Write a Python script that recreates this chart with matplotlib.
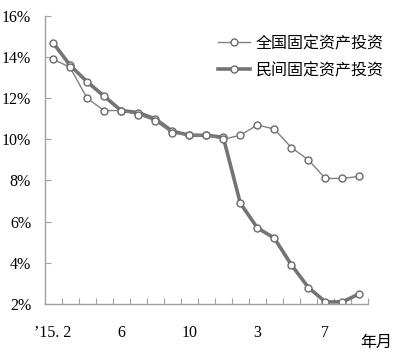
import matplotlib
matplotlib.use("Agg")
import matplotlib.pyplot as plt

plt.rcParams['font.family'] = ['Liberation Serif', 'Noto Sans CJK SC', 'DejaVu Sans']

months = ["15.2", "15.3", "15.4", "15.5", "15.6", "15.7", "15.8", "15.9", "15.10",
          "15.11", "15.12", "16.2", "16.3", "16.4", "16.5", "16.6", "16.7", "16.8", "16.9"]
national = [13.9, 13.5, 12.0, 11.4, 11.4, 11.2, 10.9, 10.3, 10.2, 10.2, 10.0,
            10.2, 10.7, 10.5, 9.6, 9.0, 8.1, 8.1, 8.2]
private = [14.7, 13.6, 12.8, 12.1, 11.4, 11.3, 11.0, 10.4, 10.2, 10.2, 10.1,
           6.9, 5.7, 5.2, 3.9, 2.8, 2.1, 2.1, 2.5]
xtick_idx = [0, 4, 8, 12, 16]
xtick_labels = ["’15. 2", "6", "10", "3", "7"]
yticks = [2, 4, 6, 8, 10, 12, 14, 16]
name_national = "全国固定资产投资"
name_private = "民间固定资产投资"

fig = plt.figure(figsize=(4.0, 3.61), dpi=100)
ax = fig.add_axes([0.1125, 0.158, 0.8075, 0.798])
x = list(range(len(months)))

ax.plot(x, national, color="#808080", lw=1.0, marker="o", ms=5, mfc="white",
        mec="#6a6a6a", mew=1.0, label=name_national, zorder=3)
ax.plot(x, private, color="#747474", lw=2.6, marker="o", ms=5, mfc="white",
        mec="#6a6a6a", mew=1.0, label=name_private, zorder=2)

ax.set_xlim(-0.47, 18.5)
ax.set_ylim(2, 16)
ax.set_yticks(yticks)
ax.set_yticklabels([f"{v}%" for v in yticks], fontsize=11.5)
ax.set_xticks([i + 0.5 for i in x])
ax.set_xticklabels([])
ax.set_xticks(xtick_idx, minor=True)
ax.set_xticklabels(xtick_labels, minor=True, fontsize=11.5)
ax.tick_params(axis='x', which='minor', length=0, pad=15)
ax.tick_params(axis='x', which='major', direction='in', length=4, color="#a0a0a0")
ax.tick_params(axis='y', direction='in', length=4, color="#a0a0a0", pad=10)

for s in ["top", "right"]:
    ax.spines[s].set_visible(False)
for s in ["left", "bottom"]:
    ax.spines[s].set_color("#a0a0a0")
    ax.spines[s].set_linewidth(1.0)

leg = ax.legend(loc="upper left", bbox_to_anchor=(218 / 400, 1 - 35 / 361),
                bbox_transform=fig.transFigure, frameon=False, borderpad=0,
                borderaxespad=0, handlelength=2.0, handletextpad=0.35,
                labelspacing=0.62,
                prop={'family': ['Noto Sans CJK SC'], 'size': 11.5})
fig.text(0.98, 0.052, "年月", fontsize=11.5, family=['Noto Sans CJK SC'],
         ha="right", va="center")

fig.savefig("out.png", dpi=100)
